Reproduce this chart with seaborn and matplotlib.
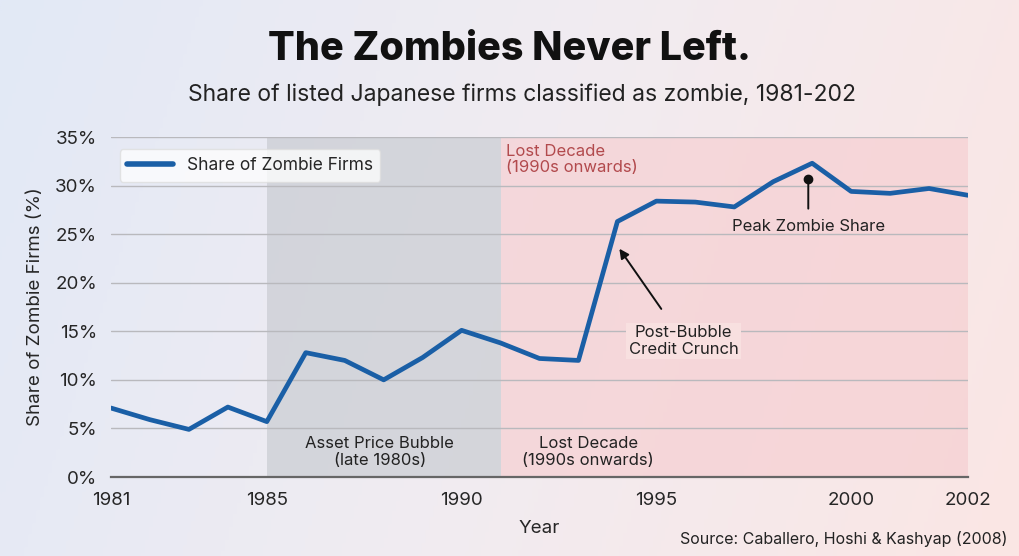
import numpy as np
import pandas as pd
import seaborn as sns
import matplotlib.pyplot as plt
from matplotlib.colors import LinearSegmentedColormap

# data
years = list(range(1981, 2004))
share = [7.1, 5.9, 4.9, 7.2, 5.7, 12.8, 12.0, 10.0, 12.3, 15.1, 13.8, 12.2,
         12.0, 26.3, 28.4, 28.3, 27.8, 30.4, 32.3, 29.4, 29.2, 29.7, 29.0]
tick_years = [1981, 1985, 1990, 1995, 2000, 2003]
tick_labels = ["1981", "1985", "1990", "1995", "2000", "2002"]
bubble = (1985, 1991)
lost = (1991, 2003)

df = pd.DataFrame({"Year": years, "Share": share})

sns.set_style("white")
plt.rcParams["font.family"] = ["Inter", "DejaVu Sans"]

fig = plt.figure(figsize=(10.19, 5.56), dpi=100)

# soft blue -> pink background
bg = fig.add_axes([0, 0, 1, 1], zorder=-10)
grad = np.linspace(0, 1, 256)
gx, gy = np.meshgrid(grad, grad)
cmap = LinearSegmentedColormap.from_list("bg", ["#e2e9f6", "#f1ecf1", "#fbe6e4"])
bg.imshow(gx * 0.85 + gy * 0.15, cmap=cmap, aspect="auto", extent=[0, 1, 0, 1])
bg.axis("off")

ax = fig.add_axes([111 / 1019, 1 - 477 / 556, (968 - 111) / 1019, (477 - 137) / 556])
ax.patch.set_alpha(0)

ax.axvspan(*bubble, color="#c9ccd2", alpha=0.7, lw=0, zorder=0)
ax.axvspan(*lost, color="#f6cfd2", alpha=0.7, lw=0, zorder=0)

for v in range(5, 40, 5):
    ax.axhline(v, color="#b9b9bd", lw=1, zorder=1)

sns.lineplot(data=df, x="Year", y="Share", ax=ax, color="#1a5fa6", lw=3.4,
             label="Share of Zombie Firms", zorder=3)

ax.set_xlim(1981, 2003)
ax.set_ylim(0, 35)
ax.set_xticks(tick_years)
ax.set_xticklabels(tick_labels)
ax.set_yticks(range(0, 40, 5))
ax.set_yticklabels([f"{v}%" for v in range(0, 40, 5)])
ax.tick_params(axis="x", length=5, width=1.2, color="#555555", labelsize=13.5, pad=6)
ax.tick_params(axis="y", length=0, labelsize=13.5, pad=10)
for s in ["top", "right", "left"]:
    ax.spines[s].set_visible(False)
ax.spines["bottom"].set_color("#666666")
ax.spines["bottom"].set_linewidth(1.6)
ax.set_xlabel("Year", fontsize=13.5, labelpad=8)
ax.set_ylabel("Share of Zombie Firms (%)", fontsize=13.5, labelpad=8)

leg = ax.legend(loc="upper left", bbox_to_anchor=(0.0, 0.99), fontsize=12.5,
                frameon=True, facecolor="white", edgecolor="#dddddd",
                framealpha=0.75, handlelength=2.6, borderpad=0.45)
for h in leg.get_lines():
    h.set_linewidth(4)

ax.text(lost[0] + 0.15, 34.3, "Lost Decade\n(1990s onwards)", color="#b24a4d",
        fontsize=12, va="top", ha="left", linespacing=1.1)
ax.text(sum(bubble) / 2 - 0.1, 4.2, "Asset Price Bubble\n(late 1980s)", fontsize=12,
        ha="center", va="top", color="#222222", linespacing=1.15)
ax.text(1993.25, 4.2, "Lost Decade\n(1990s onwards)", fontsize=12,
        ha="center", va="top", color="#222222", linespacing=1.15)

# peak annotation
pk = int(np.argmax(share))
px, py = years[pk], share[pk]
ax.annotate("Peak Zombie Share", xy=(px - 0.1, py - 1.6), xytext=(px - 0.1, 25.8),
            ha="center", va="center", fontsize=12, color="#222222",
            arrowprops=dict(arrowstyle="-", color="#111111", lw=1.4, shrinkA=5, shrinkB=0))
ax.plot([px - 0.1], [py - 1.6], "o", color="#111111", ms=6, zorder=4)

# credit crunch annotation
ax.annotate("Post-Bubble\nCredit Crunch", xy=(years[13] + 0.05, share[13] - 2.8),
            xytext=(1995.7, 14.0), ha="center", va="center", fontsize=12,
            color="#222222", linespacing=1.15,
            bbox=dict(boxstyle="square,pad=0.15", fc="#f8e0e0", ec="none"),
            arrowprops=dict(arrowstyle="-|>", color="#111111", lw=1.4,
                            mutation_scale=14, shrinkA=12, shrinkB=0))

fig.text(0.5, 1 - 50 / 556, "The Zombies Never Left.", ha="center", va="center",
         fontsize=28.5, fontweight="heavy", color="#111111")
fig.text(522 / 1019, 1 - 95 / 556, "Share of listed Japanese firms classified as zombie, 1981-202",
         ha="center", va="center", fontsize=16.5, color="#222222")
fig.text(1 - 11 / 1019, 1 - 539 / 556, "Source: Caballero, Hoshi & Kashyap (2008)",
         ha="right", va="center", fontsize=11.5, color="#222222")

fig.savefig("out.png", dpi=100)
